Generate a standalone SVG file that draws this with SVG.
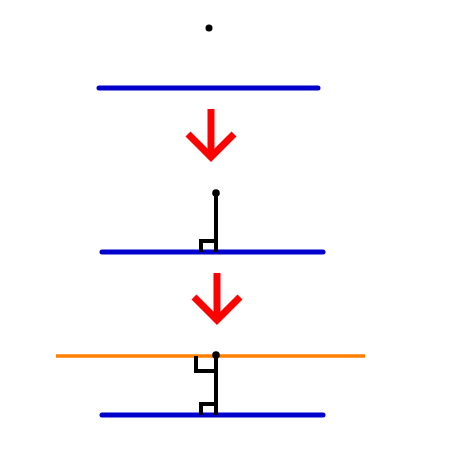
<svg xmlns="http://www.w3.org/2000/svg" width="474" height="474" viewBox="0 0 474 474">
<style>
.blue{stroke:#0000cc;stroke-width:5;stroke-linecap:round;fill:none}
.orange{stroke:#ff8000;stroke-width:3.5;fill:none}
.black{stroke:#000;stroke-width:4;fill:none}
.red{stroke:#ff0000;stroke-width:7;fill:none;stroke-linejoin:miter}
.dot{fill:#000}
</style>
<rect width="474" height="474" fill="#fff"/>
<g id="step1">
<circle class="dot" cx="209" cy="28" r="3.5"/>
<line class="blue" x1="99" y1="88" x2="318" y2="88"/>
</g>
<g id="step2">
<line class="blue" x1="102" y1="252" x2="323" y2="252"/>
<polyline class="black" points="201,252 201,241 216,241"/>
<line class="black" x1="216" y1="193" x2="216" y2="252"/>
<circle class="dot" cx="216" cy="193" r="3.8"/>
</g>
<g id="step3">
<line class="orange" x1="56" y1="356" x2="365" y2="356"/>
<line class="blue" x1="102" y1="415" x2="323" y2="415"/>
<polyline class="black" points="201,415 201,404 216,404"/>
<polyline class="black" points="196,356 196,371 216,371"/>
<line class="black" x1="216" y1="355" x2="216" y2="415"/>
<circle class="dot" cx="216" cy="355" r="3.8"/>
</g>
<g id="connectors">
<line class="red" x1="211" y1="109" x2="211" y2="155"/>
<polyline class="red" points="188,134 211,157 234,134"/>
<line class="red" x1="217" y1="273" x2="217" y2="320"/>
<polyline class="red" points="194,297 217,320 240,297"/>
</g>
</svg>
